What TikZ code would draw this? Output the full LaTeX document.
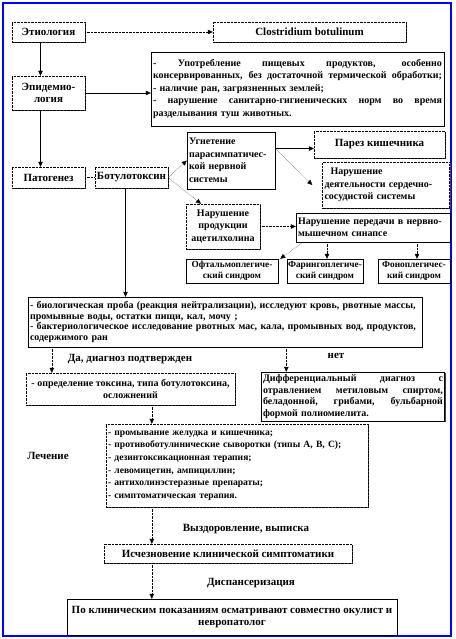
\documentclass[tikz,border=0pt]{standalone}
\usepackage{fontspec}
\setmainfont{Liberation Serif}
\usetikzlibrary{positioning,arrows.meta,shadows}

\newcommand{\fitline}[2]{{\spaceskip=0pt\xspaceskip=0pt\makebox[#1][s]{#2}}}

\begin{document}
\begin{tikzpicture}[
x=1pt, y=-1pt,
>={Triangle[length=5pt,width=4.5pt]},
box/.style={rectangle, draw, fill=white, inner sep=2pt, align=center,
  font=\fontsize{11}{12.5}\selectfont\bfseries},
dotbox/.style={box, densely dotted},
boxshadow/.style={drop shadow={shadow xshift=1.3pt, shadow yshift=-1.3pt,
  fill=black!75, opacity=1}},
small/.style={font=\fontsize{10}{12.5}\selectfont\bfseries},
syndrome/.style={box, minimum height=24pt, inner sep=0pt,
  font=\fontsize{9.3}{11}\selectfont\bfseries},
dotarrow/.style={->, densely dotted},
lbl/.style={font=\fontsize{11}{12.5}\selectfont\bfseries}
]

\useasboundingbox (0,0) rectangle (455,639);
\draw[blue, line width=1.5pt] (3,3) rectangle (451,636);

% etiology, epidemiology
\node[dotbox, boxshadow, minimum width=73pt, minimum height=20pt] (etio) at (48.5,32) {Этиология};
\node[dotbox, boxshadow, minimum width=193pt, minimum height=20pt] (clost) at (309.5,32) {Clostridium botulinum};
\node[dotbox, boxshadow, minimum width=73pt, minimum height=34pt] (epid) at (48.5,93) {Эпидемио-\\логия};
\node[box, boxshadow, small, align=left, text width=289pt, minimum height=74pt] (epidtext) at (297.5,89) {%
\fitline{289pt}{- Употребление пищевых продуктов, особенно}\\
\fitline{289pt}{консервированных, без достаточной термической обработки;}\\
- наличие ран, загрязненных землей;\\
\fitline{289pt}{- нарушение санитарно-гигиенических норм во время}\\
разделывания туш животных.};

% pathogenesis
\node[dotbox, boxshadow, minimum width=73pt, minimum height=21pt] (pat) at (48.5,177.5) {Патогенез};
\node[dotbox, boxshadow, minimum width=73pt, minimum height=21pt] (botu) at (131.5,177.5) {Ботулотоксин};
\node[box, small, align=left, text width=84pt, minimum height=57pt] (ugnet) at (231,160.5) {Угнетение\\парасимпатичес-\\кой нервной\\системы};
\node[dotbox, boxshadow, small, minimum width=74pt, minimum height=45pt] (narprod) at (223,226.5) {Нарушение\\продукции\\ацетилхолина};
\node[dotbox, boxshadow, minimum width=131pt, minimum height=27pt] (parez) at (379.5,144.5) {Парез кишечника};
\node[dotbox, boxshadow, small, align=left, text width=123pt, minimum height=46pt] (nardeyat) at (386,185) {\hspace*{6pt}Нарушение\\деятельности сердечно-\\сосудистой системы};
\node[box, small, align=left, text width=150pt, minimum height=29pt] (narper) at (373,227.5) {Нарушение передачи в нервно-\\мышечном синапсе};
\node[syndrome, minimum width=92pt] (oft) at (232,271) {Офтальмоплегиче-\\ский синдром};
\node[syndrome, minimum width=76pt] (far) at (325,271) {Фарингоплегиче-\\ский синдром};
\node[syndrome, minimum width=72pt] (fon) at (414,271) {Фоноплегичес-\\кий синдром};

% diagnosis
\node[box, boxshadow, font=\fontsize{10}{10.5}\selectfont\bfseries, align=left, text width=390pt, minimum height=50pt] (diag) at (225,322) {%
- биологическая проба (реакция нейтрализации), исследуют кровь, рвотные массы,\\
промывные воды, остатки пищи, кал, мочу ;\\
- бактериологическое исследование рвотных мас, кала, промывных вод, продуктов,\\
содержимого ран};
\node[dotbox, boxshadow, small, minimum width=209pt, minimum height=32pt] (opred) at (130.5,389) {- определение токсина, типа ботулотоксина,\\осложнений};
\node[box, boxshadow, font=\fontsize{10}{11.6}\selectfont\bfseries, inner sep=1.5pt, align=left, text width=180pt, minimum height=49pt] (diff) at (353,396.5) {%
\fitline{180pt}{Дифференциальный диагноз с}\\
\fitline{180pt}{отравлением метиловым спиртом,}\\
\fitline{180pt}{беладонной, грибами, бульбарной}\\
формой полиомиелита.};

% treatment
\node[dotbox, boxshadow, font=\fontsize{9.6}{12.6}\selectfont\bfseries, align=left, text width=258pt, minimum height=83pt] (lech) at (237,465.5) {%
- промывание желудка и кишечника;\\
- противоботулинические сыворотки (типы A, B, C);\\
- дезинтоксикационная терапия;\\
- левомицетин, ампициллин;\\
- антихолинэстеразные препараты;\\
- симптоматическая терапия.};
\node[dotbox, boxshadow, minimum width=248pt, minimum height=19pt] (ischez) at (228,553.5) {Исчезновение клинической симптоматики};
\node[box, minimum width=330pt, minimum height=36pt] (final) at (232,617) {По клиническим показаниям осматривают совместно окулист и\\невропатолог};

% labels
\node[lbl] (dalbl) at (130,359) {Да, диагноз подтвержден};
\node[lbl] (netlbl) at (336,356) {нет};
\node[lbl] (lechlbl) at (48,456) {Лечение};
\node[lbl] (vyzdlbl) at (246,529) {Выздоровление, выписка};
\node[lbl] (displbl) at (251,583) {Диспансеризация};

% helper points
\coordinate (fork) at ([yshift=12pt]ugnet.east);
\coordinate (datop) at ([xshift=26pt]opred.north west);
\coordinate (nettop) at ([xshift=25pt]diff.north west);
\coordinate (lechtop) at ([xshift=46pt]lech.north west);

% connectors
\draw[dotarrow] (etio.east) -- (clost.west);
\draw[->] ([xshift=-8pt]etio.south) -- ([xshift=-8pt]epid.north);
\draw[->] (epid.east) -- (epid.east -| epidtext.west);
\draw[->] ([xshift=-8pt]epid.south) -- ([xshift=-8pt]pat.north);
\draw[densely dotted] (pat.east) -- (botu.west);
\draw[dotarrow] (botu.east) -- (ugnet.west);
\draw[dotarrow] (botu.east) -- ([xshift=-22pt]narprod.north);
\draw[->] (fork) -- (fork -| parez.west);
\draw[dotarrow] (fork) -- ([xshift=-10pt]nardeyat.west);
\draw[dotarrow] (narprod.east) -- (narprod.east -| narper.west);
\draw[dotarrow] ([xshift=-70pt]narper.south) -- ([xshift=2pt]oft.north east);
\draw[dotarrow] ([xshift=2pt]far.north |- narper.south) -- ([xshift=2pt]far.north);
\draw[dotarrow] ([xshift=3pt]fon.north |- narper.south) -- ([xshift=3pt]fon.north);
\draw[->] ([xshift=-6pt]botu.south) -- ([xshift=-6pt]botu.south |- diag.north);
\draw[dotarrow] (datop |- diag.south) -- (datop);
\draw[dotarrow] (nettop |- diag.south) -- (nettop);
\draw[dotarrow] (lechtop |- opred.south) -- (lechtop);
\draw[dotarrow] (lechtop |- lech.south) -- (lechtop |- ischez.north);
\draw[dotarrow] (lechtop |- ischez.south) -- (lechtop |- final.north);

\end{tikzpicture}
\end{document}
